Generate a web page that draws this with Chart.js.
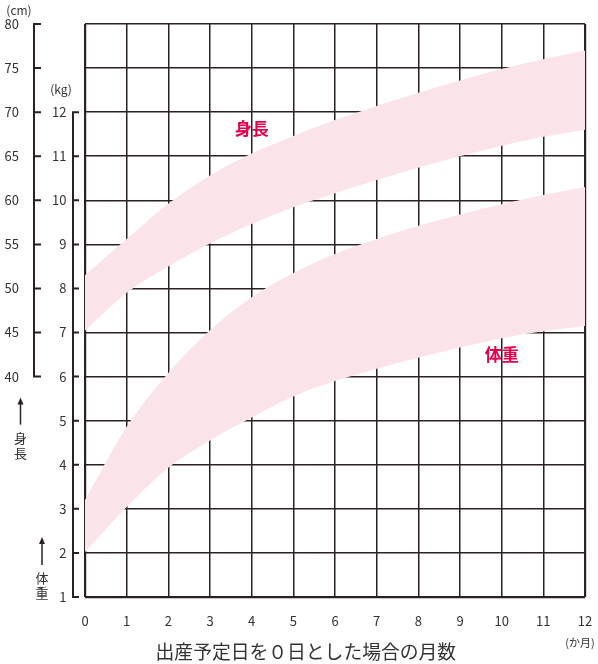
<!DOCTYPE html>
<html><head><meta charset="utf-8">
<script src="https://cdn.jsdelivr.net/npm/chart.js@4"></script>
<style>html,body{margin:0;padding:0;background:#fff}</style>
</head><body>
<canvas id="c" width="598" height="664"></canvas>
<script>
// ---- data ----
const months = [0,1,2,3,4,5,6,7,8,9,10,11,12];
const heightUpper = [51.5, 55.6, 59.6, 62.8, 65.3, 67.3, 69.1, 70.7, 72.2, 73.6, 74.9, 76.0, 77.0];
const heightLower = [45.2, 49.5, 52.5, 55.1, 57.3, 59.2, 60.8, 62.3, 63.7, 65.0, 66.2, 67.2, 68.0];
const weightUpper = [3.2, 4.86, 6.08, 7.05, 7.8, 8.35, 8.78, 9.12, 9.42, 9.68, 9.91, 10.12, 10.3];
const weightLower = [2.02, 3.04, 3.93, 4.55, 5.07, 5.55, 5.9, 6.18, 6.43, 6.66, 6.87, 7.03, 7.15];
const cmTicks = [40, 45, 50, 55, 60, 65, 70, 75, 80];
const kgTicks = [1,2,3,4,5,6,7,8,9,10,11,12];
const xTitle = '出産予定日を０日とした場合の月数';
const bandLabels = [{text:'身長', month:4, axis:'cm', value:68.1}, {text:'体重', month:10, axis:'kg', value:6.5}];

const GRID = '#2b2120';
const PINK = '#fbe4e9';
const RED = '#e5004f';
const FONT = "'Noto Sans CJK JP', 'Noto Sans', sans-serif";
Chart.defaults.font.family = FONT;

const pts = arr => months.map((m, i) => ({x: m, y: arr[i]}));
const band = (data, axis, fill) => ({
  data: pts(data), yAxisID: axis, fill: fill, backgroundColor: PINK,
  borderWidth: 0, pointRadius: 0, cubicInterpolationMode: 'monotone'
});

const decor = {
  id: 'decor',
  afterDraw(chart) {
    const {ctx, chartArea: ca, scales} = chart;
    const cm = scales.cm, kg = scales.kg, x = scales.x;
    ctx.save();
    ctx.strokeStyle = GRID; ctx.fillStyle = GRID; ctx.lineWidth = 2;
    // cm bracket
    const cx = cm.right - 1;
    ctx.beginPath();
    ctx.moveTo(cx, cm.getPixelForValue(cmTicks[cmTicks.length-1]));
    ctx.lineTo(cx, cm.getPixelForValue(cmTicks[0]));
    cmTicks.forEach(v => { const y = cm.getPixelForValue(v); ctx.moveTo(cx - 1, y); ctx.lineTo(cx + 7, y); });
    ctx.stroke();
    // kg bracket
    const kx = kg.right - 12;
    ctx.beginPath();
    ctx.moveTo(kx, kg.getPixelForValue(kgTicks[kgTicks.length-1]));
    ctx.lineTo(kx, kg.getPixelForValue(kgTicks[0]));
    kgTicks.forEach(v => { const y = kg.getPixelForValue(v); ctx.moveTo(kx - 1, y); ctx.lineTo(kx + 6, y); });
    ctx.stroke();
    // arrows
    const arrow = (ax, tip, bottom) => {
      ctx.lineWidth = 1.5;
      ctx.beginPath(); ctx.moveTo(ax, tip + 5); ctx.lineTo(ax, bottom); ctx.stroke();
      ctx.beginPath(); ctx.moveTo(ax, tip); ctx.lineTo(ax - 3, tip + 7); ctx.lineTo(ax + 3, tip + 7); ctx.closePath(); ctx.fill();
    };
    const ax1 = cm.right - 14.5, ax2 = cm.right + 7;
    const y40 = cm.getPixelForValue(40);
    arrow(ax1, y40 + 21, y40 + 48);
    const y2 = kg.getPixelForValue(2);
    arrow(ax2, y2 - 16, y2 + 12);
    ctx.fillStyle = '#333';
    ctx.font = '13px ' + FONT; ctx.textAlign = 'center'; ctx.textBaseline = 'middle';
    ctx.fillText('身', ax1, y40 + 61);
    ctx.fillText('長', ax1, y40 + 76);
    ctx.fillText('体', ax2, y2 + 25);
    ctx.fillText('重', ax2, y2 + 40);
    // units
    ctx.font = '12px ' + FONT;
    ctx.fillText('(cm)', cm.right - 16, ca.top - 14);
    ctx.fillText('(kg)', kg.right - 24, kg.getPixelForValue(12) - 23);
    ctx.font = '11px ' + FONT;
    ctx.fillText('(か月)', x.right - 5, x.top + 46);
    // axis title
    ctx.font = '18.8px ' + FONT;
    ctx.fillText(xTitle, x.getPixelForValue(5.3), x.top + 55);
    // band labels
    ctx.fillStyle = RED; ctx.font = 'bold 17px ' + FONT;
    bandLabels.forEach(l => ctx.fillText(l.text, x.getPixelForValue(l.month), scales[l.axis].getPixelForValue(l.value)));
    ctx.restore();
  }
};

const edgeWidth = (edges) => c => edges.includes(c.tick.value) ? 2.2 : 1.5;
const noPadV = s => { s.paddingTop = 0; s.paddingBottom = 0; };

new Chart(document.getElementById('c'), {
  type: 'line',
  data: { datasets: [
    band(heightUpper, 'cm', '+1'),
    band(heightLower, 'cm', false),
    band(weightUpper, 'kg', '+1'),
    band(weightLower, 'kg', false)
  ]},
  options: {
    responsive: false, animation: false,
    layout: { padding: { top: 24, right: 13, bottom: 0, left: 0 } },
    plugins: { legend: { display: false }, tooltip: { enabled: false }, title: { display: false } },
    scales: {
      x: { type: 'linear', min: 0, max: 12, position: 'bottom', z: 1,
           afterBuildTicks: s => { s.ticks = months.map(v => ({value: v})); },
           ticks: { padding: 16, color: '#333', font: { size: 13 }, maxRotation: 0, autoSkip: false },
           grid: { color: GRID, lineWidth: edgeWidth([0, 12]), drawTicks: false },
           border: { display: false },
           afterFit: s => { s.height = 67; s.paddingLeft = 0; s.paddingRight = 0; } },
      kg: { type: 'linear', position: 'left', weight: 5, min: 1, max: 14, z: 1,
            afterBuildTicks: s => { const t = []; for (let v = s.min; v <= s.max; v++) t.push({value: v}); s.ticks = t; },
            ticks: { padding: 18.5, color: '#333', font: { size: 13 }, autoSkip: false,
                     callback: v => kgTicks.includes(v) ? String(v) : '' },
            grid: { color: GRID, lineWidth: edgeWidth([1]), drawTicks: false },
            border: { display: false },
            afterFit: s => { s.width = 50; noPadV(s); } },
      cm: { type: 'linear', position: 'left', weight: 10, min: 15, max: 80,
            afterBuildTicks: s => { s.ticks = cmTicks.map(v => ({value: v})); },
            ticks: { padding: 8, color: '#333', font: { size: 13 }, autoSkip: false },
            grid: { display: false },
            border: { display: false },
            afterFit: s => { s.width = 35; noPadV(s); } }
    }
  },
  plugins: [decor]
});
</script>
</body></html>
